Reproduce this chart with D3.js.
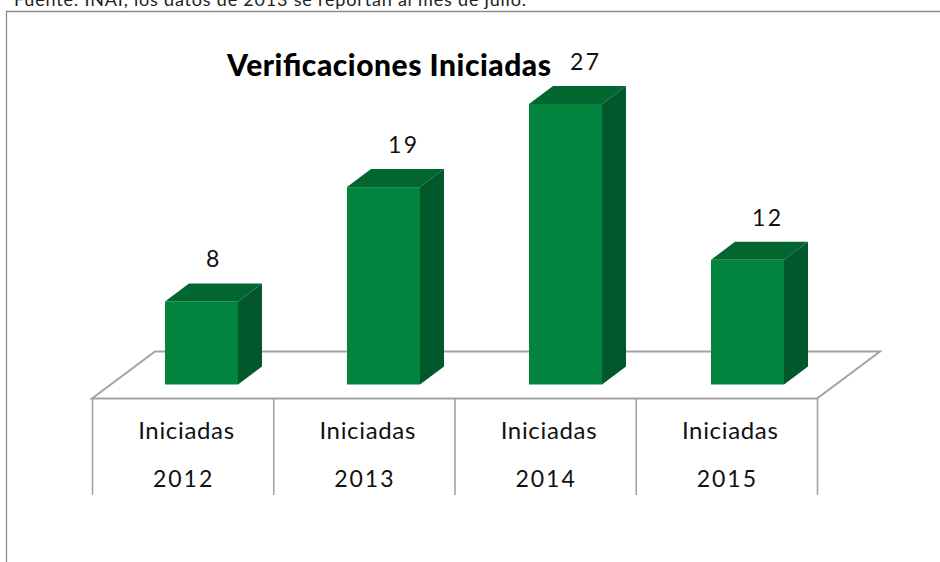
<!DOCTYPE html>
<html><head><meta charset="utf-8">
<script src="https://cdnjs.cloudflare.com/ajax/libs/d3/7.8.5/d3.min.js"></script>
<style>html,body{margin:0;padding:0;background:#fff}svg{display:block}</style>
</head><body><svg id="c" width="940" height="562"></svg>
<script>
const years = ["2012","2013","2014","2015"];
const seriesName = ["Iniciadas","Iniciadas","Iniciadas","Iniciadas"];
const values = [8,19,27,12];
const chartTitle = "Verificaciones Iniciadas";
const sourceNote = "Fuente: INAI, los datos de 2013 se reportan al mes de julio.";

const svg = d3.select("#c");
const W = 940, H = 562;
const font = "Lato, sans-serif";
const grey = "#a3a3a3";
const depth = {x:24, y:18};
const floorDepth = {x:63, y:47};

const x = d3.scaleBand().domain(years).range([92,817]);
const xBar = d3.scaleBand().domain(years).range([92,820]);
const y = d3.scaleLinear().domain([0,27]).range([384.5,104]);
const barW = 73;
const barX = d => xBar(d) + 73;

svg.append("text").attr("x",14).attr("y",6).attr("font-family",font).attr("font-size",18).attr("fill","#222").attr("textLength",512).text(sourceNote);

svg.append("path").attr("d",`M6.5,${H}V11.5H${W}`).attr("fill","none").attr("stroke","#8c8c8c").attr("stroke-width",1.3);

const fy = 398.5;
svg.append("path").attr("fill","#fff").attr("stroke",grey).attr("stroke-width",2)
  .attr("d",`M${x.range()[0]},${fy}L${x.range()[0]+floorDepth.x},${fy-floorDepth.y}H${x.range()[1]+floorDepth.x}L${x.range()[1]},${fy}Z`);

const seps = years.map(d=>x(d)).concat([x.range()[1]]);
svg.selectAll("line.sep").data(seps).join("line").attr("class","sep")
  .attr("x1",d=>d+0.5).attr("x2",d=>d+0.5).attr("y1",fy).attr("y2",495)
  .attr("stroke",grey).attr("stroke-width",1.6);

const g = svg.selectAll("g.bar").data(years.map((yr,i)=>({yr,v:values[i]}))).join("g").attr("class","bar");
g.append("path").attr("fill","#016630")
  .attr("d",d=>{const l=barX(d.yr),t=y(d.v);return `M${l},${t}L${l+depth.x},${t-depth.y}H${l+barW+depth.x}L${l+barW},${t}Z`;});
g.append("path").attr("fill","#02582a")
  .attr("d",d=>{const r=barX(d.yr)+barW,t=y(d.v),b=y(0);return `M${r},${t}L${r+depth.x},${t-depth.y}V${b-depth.y}L${r},${b}Z`;});
g.append("rect").attr("fill","#02843e")
  .attr("x",d=>barX(d.yr)).attr("y",d=>y(d.v)).attr("width",barW).attr("height",d=>y(0)-y(d.v));
g.append("text").attr("x",d=>barX(d.yr)+41).attr("y",d=>y(d.v)-34)
  .attr("font-family",font).attr("font-size",23).attr("letter-spacing",2.3).attr("fill","#111").text(d=>d.v);

const lab = svg.selectAll("g.lab").data(years).join("g").attr("class","lab");
lab.append("text").attr("x",d=>x(d)+x.bandwidth()/2+3.5).attr("y",439)
  .attr("text-anchor","middle").attr("font-family",font).attr("font-size",24).attr("textLength",96).attr("fill","#111").text((d,i)=>seriesName[i]);
lab.append("text").attr("x",d=>x(d)+x.bandwidth()/2+1).attr("y",487)
  .attr("text-anchor","middle").attr("font-family",font).attr("font-size",23).attr("letter-spacing",2).attr("fill","#111").text(d=>d);

svg.append("text").attr("x",227).attr("y",76).attr("font-family",font).attr("font-weight",900).attr("font-size",30).attr("textLength",324).attr("fill","#000").text(chartTitle);
</script></body></html>
